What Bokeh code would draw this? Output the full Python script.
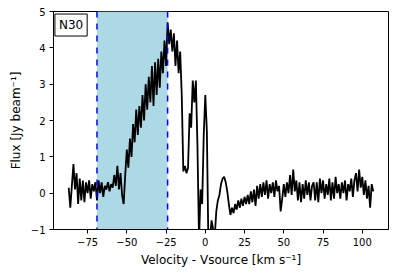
from bokeh.plotting import figure
from bokeh.models import BoxAnnotation, Span, Label, Range1d, FixedTicker
from bokeh.embed import file_html
from bokeh.resources import INLINE

# velocity channels (km/s) and flux (Jy/beam)
velocity = list(range(-87, 108))
flux = [
    # -87 .. -51
    0.15, -0.4, 0.2, 0.8, 0.1, 0.55, -0.3, 0.4, -0.2, 0.35,
    -0.25, 0.3, 0.0, 0.35, -0.15, 0.25, 0.05, 0.3, -0.2, 0.35,
    0.0, 0.3, -0.1, 0.2, 0.1, 0.3, 0.05, 0.25, 0.15, 0.5,
    0.2, 0.75, 0.1, 0.55, -0.05, -0.3, 0.5,
    # -50 .. -24
    1.2, 0.7, 1.5, 1.0, 1.9, 1.4, 2.3, 1.6, 2.4, 1.8,
    2.7, 2.0, 3.0, 2.3, 3.2, 2.5, 3.5, 2.4, 3.6, 2.7,
    3.7, 2.9, 3.9, 3.3, 4.2, 3.5, 4.7,
    # -23 .. 1
    4.1, 4.5, 3.9, 4.4, 3.5, 4.2, 3.3, 3.9, 2.7, 0.6,
    0.75, 0.55, 0.7, 2.2, 1.8, 3.1, 2.5, 3.1, 1.3, -1.3,
    0.1, -0.3, 1.6, 2.7, 1.7,
    # 2 .. 31
    -1.5, -1.2, -0.75, -1.0, -1.2, -0.5, -0.2, -0.05, 0.25, 0.4,
    0.45, 0.3, 0.05, -0.3, -0.6, -0.4, -0.55, -0.3, -0.45, -0.2,
    -0.4, -0.15, -0.35, -0.1, -0.3, -0.05, -0.3, 0.05, -0.25, 0.1,
    # 32 .. 61
    -0.35, 0.2, -0.15, 0.25, -0.1, 0.3, -0.05, 0.35, -0.15, 0.25,
    0.0, 0.3, -0.1, 0.35, 0.05, 0.2, -0.5, -0.15, 0.25, -0.1,
    0.3, 0.0, 0.5, -0.05, 0.65, 0.05, 0.35, -0.2, 0.3, -0.25,
    # 62 .. 91
    0.25, -0.15, 0.35, -0.05, 0.3, -0.2, 0.2, 0.3, -0.2, 0.3,
    -0.25, 0.4, 0.0, 0.35, -0.15, 0.25, -0.05, 0.4, -0.2, 0.3,
    -0.15, 0.45, 0.0, 0.25, -0.15, 0.3, 0.0, 0.35, -0.2, 0.25,
    # 92 .. 107
    0.05, 0.4, -0.1, 0.35, 0.55, 0.05, 0.65, 0.15, 0.45, -0.05,
    0.35, -0.15, 0.2, -0.4, 0.25, 0.05,
]
assert len(flux) == len(velocity)
window = [-69, -24]
x_ticks = [-75, -50, -25, 0, 25, 50, 75, 100]
y_ticks = [-1, 0, 1, 2, 3, 4, 5]
label_text = "N30"

p = figure(frame_width=335, frame_height=218, output_backend="svg", toolbar_location=None,
           x_range=Range1d(-96.7, 116.7), y_range=Range1d(-1, 5),
           min_border_left=53, min_border_right=6, min_border_top=11, min_border_bottom=47)

p.add_layout(BoxAnnotation(left=window[0], right=window[1], fill_color="#add8e6",
                           fill_alpha=1.0, line_color=None, level="underlay"))
p.line(velocity, flux, line_color="black", line_width=1.8)
for w in window:
    p.add_layout(Span(location=w, dimension="height", line_color="blue",
                      line_dash="dashed", line_width=1.5))

p.add_layout(Label(x=-95.8, y=4.93, text=label_text, text_baseline="top", text_align="left",
                   text_font="DejaVu Sans", text_font_size="12px", text_color="black",
                   border_line_color="black", border_line_width=1, border_line_alpha=1.0,
                   background_fill_color="white", background_fill_alpha=1.0, padding=4))

p.xgrid.visible = False
p.ygrid.visible = False
p.outline_line_color = "black"
p.outline_line_width = 1
p.outline_line_alpha = 1

for ax, ticks in ((p.xaxis[0], x_ticks), (p.yaxis[0], y_ticks)):
    ax.ticker = FixedTicker(ticks=ticks)
    ax.major_label_overrides = {t: (("\u2212" + str(-t)) if t < 0 else str(t)) for t in ticks}
    ax.minor_tick_line_color = None
    ax.major_tick_in = 0
    ax.major_tick_out = 4
    ax.major_label_standoff = 4
    ax.axis_line_color = "black"
    ax.major_tick_line_color = "black"
    ax.major_label_text_font = "DejaVu Sans"
    ax.major_label_text_font_size = "10px"
    ax.major_label_text_color = "black"
    ax.axis_label_text_font = "DejaVu Sans"
    ax.axis_label_text_font_size = "12px"
    ax.axis_label_text_font_style = "normal"
    ax.axis_label_text_color = "black"

p.xaxis.axis_label = "Velocity - Vsource [km s\u207b\u00b9]"
p.yaxis.axis_label = "Flux [Jy beam\u207b\u00b9]"
p.xaxis.axis_label_standoff = 4
p.yaxis.axis_label_standoff = 5

open("out.html", "w").write(file_html(p, INLINE))
